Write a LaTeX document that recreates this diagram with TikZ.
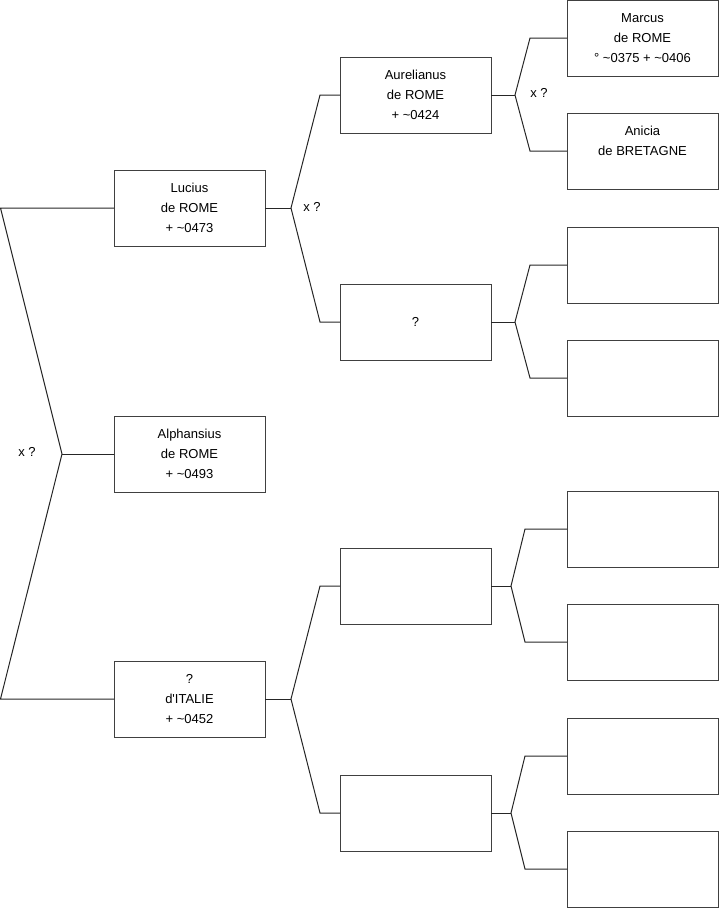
\documentclass[tikz,border=0pt]{standalone}
\usepackage{fontspec}
\setmainfont{Liberation Sans}[Ligatures=TeXOff]
\begin{document}
\begin{tikzpicture}[x=1pt,y=-1pt,
  line width=1pt, draw=black!85,
  pbox/.style={draw=black!75, line width=1pt, minimum width=151pt, minimum height=76pt,
    inner sep=0pt, outer sep=0pt, align=center, font=\fontsize{13}{20}\selectfont},
  conn/.style={draw=black!85, line width=1pt},
  lbl/.style={font=\fontsize{13}{14}\selectfont, inner sep=0pt}]
\useasboundingbox (0,0) rectangle (719,908);
% column 1
\node[pbox] (lucius) at (189.5,208) {Lucius\\de ROME\\+ \textasciitilde0473};
\node[pbox] (alph) at (189.5,454) {Alphansius\\de ROME\\+ \textasciitilde0493};
\node[pbox] (ital) at (189.5,699) {?\\d'ITALIE\\+ \textasciitilde0452};
% column 2
\node[pbox] (aur) at (415.5,95) {Aurelianus\\de ROME\\+ \textasciitilde0424};
\node[pbox] (q) at (415.5,322) {?};
\node[pbox] (e1) at (415.5,586) {};
\node[pbox] (e2) at (415.5,813) {};
% column 3
\node[pbox] (marcus) at (642.5,38) {Marcus\\de ROME\\° \textasciitilde0375 + \textasciitilde0406};
\node[pbox] (anicia) at (642.5,151) {Anicia\\de BRETAGNE\\\mbox{}};
\node[pbox] (b3) at (642.5,265) {};
\node[pbox] (b4) at (642.5,378) {};
\node[pbox] (b5) at (642.5,529) {};
\node[pbox] (b6) at (642.5,642) {};
\node[pbox] (b7) at (642.5,756) {};
\node[pbox] (b8) at (642.5,869) {};
% fork coordinates
\coordinate (r0) at (62,454);
\coordinate (rt) at (0.5,208);
\coordinate (rb) at (0.5,699);
\coordinate (f1) at (291,208);
\coordinate (f1t) at (320,95);
\coordinate (f1b) at (320,322);
\coordinate (f2) at (291,699);
\coordinate (f2t) at (320,586);
\coordinate (f2b) at (320,813);
\coordinate (g1) at (515,95);
\coordinate (g1t) at (530,38);
\coordinate (g1b) at (530,151);
\coordinate (g2) at (515,322);
\coordinate (g2t) at (530,265);
\coordinate (g2b) at (530,378);
\coordinate (g3) at (511,586);
\coordinate (g3t) at (525,529);
\coordinate (g3b) at (525,642);
\coordinate (g4) at (511,813);
\coordinate (g4t) at (525,756);
\coordinate (g4b) at (525,869);
% connectors
\draw[conn] (lucius.west) -- (rt) -- (r0) -- (rb) -- (ital.west);
\draw[conn] (r0) -- (alph.west);
\draw[conn] (lucius.east) -- (f1);
\draw[conn] (aur.west) -- (f1t) -- (f1) -- (f1b) -- (q.west);
\draw[conn] (ital.east) -- (f2);
\draw[conn] (e1.west) -- (f2t) -- (f2) -- (f2b) -- (e2.west);
\draw[conn] (aur.east) -- (g1);
\draw[conn] (marcus.west) -- (g1t) -- (g1) -- (g1b) -- (anicia.west);
\draw[conn] (q.east) -- (g2);
\draw[conn] (b3.west) -- (g2t) -- (g2) -- (g2b) -- (b4.west);
\draw[conn] (e1.east) -- (g3);
\draw[conn] (b5.west) -- (g3t) -- (g3) -- (g3b) -- (b6.west);
\draw[conn] (e2.east) -- (g4);
\draw[conn] (b7.west) -- (g4t) -- (g4) -- (g4b) -- (b8.west);
% labels
\node[lbl] (x0) at (27,452) {x ?};
\node[lbl] (x1) at (312,207) {x ?};
\node[lbl] (x2) at (539,93) {x ?};
\end{tikzpicture}
\end{document}
